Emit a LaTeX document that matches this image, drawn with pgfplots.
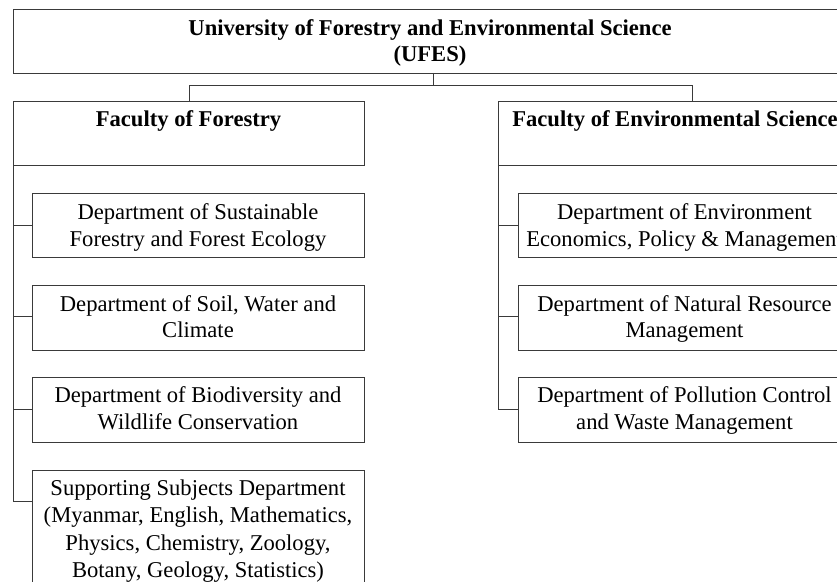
\documentclass[border=0pt]{standalone}
\usepackage{fontspec}
\setmainfont{Liberation Serif}
\usepackage{pgfplots}
\pgfplotsset{compat=1.18}
\definecolor{ln}{HTML}{3A3A3A}
\begin{document}
\fontsize{22.6bp}{27bp}\selectfont
\begin{tikzpicture}
\useasboundingbox (0,0) rectangle (837bp,582bp);
\clip (0,0) rectangle (837bp,582bp);
\begin{axis}[at={(0,0)}, anchor=south west, scale only axis,
  width=837bp, height=582bp, xmin=0, xmax=837, ymin=-582, ymax=0,
  hide axis, clip=false,
  bx/.style={draw=ln, line width=0.9bp, mark=none, solid}]
% boxes
\addplot[bx] coordinates {(13,-9) (860,-9) (860,-73) (13,-73) (13,-9)};
\addplot[bx] coordinates {(13,-101) (364,-101) (364,-165) (13,-165) (13,-101)};
\addplot[bx] coordinates {(498,-101) (860,-101) (860,-165) (498,-165) (498,-101)};
\addplot[bx] coordinates {(32,-193) (364,-193) (364,-257) (32,-257) (32,-193)};
\addplot[bx] coordinates {(32,-285) (364,-285) (364,-350) (32,-350) (32,-285)};
\addplot[bx] coordinates {(32,-377) (364,-377) (364,-442) (32,-442) (32,-377)};
\addplot[bx] coordinates {(32,-470) (364,-470) (364,-620) (32,-620) (32,-470)};
\addplot[bx] coordinates {(518,-193) (860,-193) (860,-257) (518,-257) (518,-193)};
\addplot[bx] coordinates {(518,-285) (860,-285) (860,-350) (518,-350) (518,-285)};
\addplot[bx] coordinates {(518,-377) (860,-377) (860,-442) (518,-442) (518,-377)};
% connectors
\addplot[bx] coordinates {(433,-73) (433,-85)};
\addplot[bx] coordinates {(189,-101) (189,-85) (692,-85) (692,-101)};
\addplot[bx] coordinates {(13,-165) (13,-501) (32,-501)};
\addplot[bx] coordinates {(13,-225) (32,-225)};
\addplot[bx] coordinates {(13,-316) (32,-316)};
\addplot[bx] coordinates {(13,-409) (32,-409)};
\addplot[bx] coordinates {(498,-165) (498,-409) (518,-409)};
\addplot[bx] coordinates {(498,-225) (518,-225)};
\addplot[bx] coordinates {(498,-316) (518,-316)};
% texts
\tikzset{every node/.style={anchor=base, inner sep=0pt, text=black}}
\node[font=\bfseries] at (axis cs:430,-36) {University of Forestry and Environmental Science};
\node[font=\bfseries] at (axis cs:430,-62) {(UFES)};
\node[font=\bfseries] at (axis cs:188.5,-127) {Faculty of Forestry};
\node[font=\bfseries] at (axis cs:675,-127) {Faculty of Environmental Science};
\node at (axis cs:198,-220) {Department of Sustainable};
\node at (axis cs:198,-247) {Forestry and Forest Ecology};
\node at (axis cs:198,-312) {Department of Soil, Water and};
\node at (axis cs:198,-338) {Climate};
\node at (axis cs:198,-403) {Department of Biodiversity and};
\node at (axis cs:198,-430) {Wildlife Conservation};
\node at (axis cs:198,-496) {Supporting Subjects Department};
\node at (axis cs:198,-523) {(Myanmar, English, Mathematics,};
\node at (axis cs:198,-550) {Physics, Chemistry, Zoology,};
\node at (axis cs:198,-577) {Botany, Geology, Statistics)};
\node at (axis cs:684.5,-220) {Department of Environment};
\node at (axis cs:684.5,-247) {Economics, Policy \& Management};
\node at (axis cs:684.5,-312) {Department of Natural Resource};
\node at (axis cs:684.5,-338) {Management};
\node at (axis cs:684.5,-403) {Department of Pollution Control};
\node at (axis cs:684.5,-430) {and Waste Management};
\end{axis}
\end{tikzpicture}
\end{document}
